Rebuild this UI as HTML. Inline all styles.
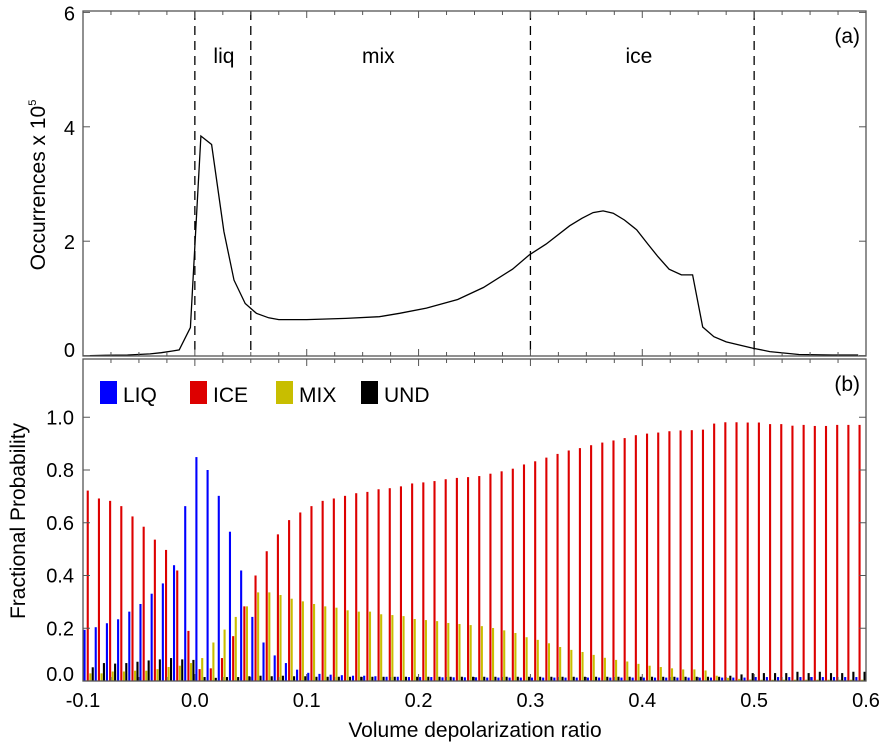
<!DOCTYPE html>
<html><head><meta charset="utf-8"><style>
html,body{margin:0;padding:0;background:#fff;}
svg{display:block;font-family:"Liberation Sans",Arial,sans-serif;}
</style></head><body>
<svg id="chart" width="891" height="751"></svg>
<script>
const occX=[-0.094,-0.08,-0.06,-0.04,-0.03,-0.02,-0.014,-0.004,0.0054,0.015,0.026,0.035,0.045,0.055,0.066,0.075,0.1,0.135,0.165,0.183,0.207,0.235,0.258,0.284,0.299,0.314,0.335,0.346,0.356,0.365,0.374,0.384,0.395,0.405,0.414,0.424,0.435,0.445,0.454,0.464,0.475,0.499,0.514,0.54,0.57,0.593];
const occY=[0.0,0.005,0.01,0.03,0.05,0.08,0.1,0.49,3.84,3.69,2.17,1.32,0.91,0.74,0.66,0.63,0.63,0.65,0.68,0.74,0.83,0.98,1.19,1.51,1.76,1.95,2.27,2.40,2.50,2.53,2.49,2.37,2.20,1.95,1.73,1.51,1.41,1.41,0.50,0.33,0.24,0.13,0.07,0.02,0.01,0.01];
const bins=[];for(let i=0;i<70;i++)bins.push(-0.1+i*0.01);
const liq=[0.194,0.204,0.219,0.234,0.263,0.292,0.331,0.370,0.439,0.663,0.849,0.80,0.702,0.566,0.419,0.243,0.146,0.097,0.068,0.043,0.031,0.027,0.024,0.022,0.02,0.02,0.018,0.016,0.016,0.015,0.015,0.015,0.014,0.014,0.014,0.014,0.013,0.013,0.013,0.013,0.013,0.013,0.013,0.013,0.013,0.013,0.013,0.013,0.013,0.013,0.013,0.013,0.013,0.013,0.013,0.013,0.013,0.013,0.013,0.013,0.015,0.015,0.015,0.015,0.015,0.015,0.015,0.015,0.015,0.015];
const ice=[0.722,0.692,0.683,0.663,0.624,0.585,0.536,0.497,0.419,0.190,0.045,0.048,0.087,0.170,0.283,0.40,0.492,0.556,0.61,0.639,0.663,0.683,0.692,0.702,0.712,0.717,0.727,0.731,0.738,0.749,0.753,0.758,0.765,0.77,0.773,0.777,0.786,0.795,0.805,0.821,0.833,0.847,0.861,0.874,0.883,0.894,0.904,0.912,0.921,0.932,0.938,0.942,0.947,0.95,0.951,0.953,0.976,0.981,0.981,0.98,0.98,0.974,0.974,0.968,0.971,0.967,0.967,0.971,0.971,0.971];
const mix=[0.029,0.029,0.036,0.036,0.039,0.039,0.045,0.053,0.058,0.068,0.087,0.146,0.195,0.243,0.283,0.336,0.336,0.326,0.312,0.302,0.292,0.283,0.278,0.268,0.263,0.263,0.253,0.25,0.246,0.235,0.231,0.227,0.22,0.216,0.212,0.208,0.201,0.192,0.182,0.166,0.156,0.143,0.129,0.118,0.11,0.099,0.088,0.08,0.074,0.065,0.058,0.053,0.048,0.044,0.044,0.04,0.02,0.012,0.008,0.006,0.005,0.005,0.005,0.005,0.005,0.005,0.005,0.005,0.005,0.005];
const und=[0.052,0.068,0.066,0.068,0.073,0.078,0.082,0.087,0.082,0.08,0.015,0.012,0.015,0.015,0.018,0.02,0.018,0.02,0.018,0.018,0.016,0.016,0.016,0.016,0.016,0.016,0.016,0.016,0.016,0.016,0.016,0.016,0.016,0.016,0.016,0.016,0.016,0.016,0.016,0.016,0.016,0.016,0.016,0.016,0.016,0.016,0.016,0.016,0.016,0.016,0.016,0.016,0.016,0.016,0.016,0.016,0.016,0.02,0.025,0.03,0.03,0.03,0.03,0.035,0.03,0.035,0.03,0.03,0.035,0.035];
const topTicks=[0,2,4,6];
const botTicks=[0.0,0.2,0.4,0.6,0.8,1.0];
const xTicks=[-0.1,0.0,0.1,0.2,0.3,0.5,0.6,0.4];
const xTickLabels=["-0.1","0.0","0.1","0.2","0.3","0.5","0.6","0.4"];
const regionLines=[0.0,0.05,0.3,0.5];
const regionNames=["liq","mix","ice"];
const regionCenters=[0.026,0.164,0.397];

const NS="http://www.w3.org/2000/svg";
const svg=document.getElementById('chart');
const L=83,R=866,T1=11,B1=356,T2=359,B2=681;
const xs=v=>L+(v+0.1)/0.7*(R-L);
const ys1=v=>355.6-v*57.2;
const ys2=v=>B2-v*263.75;
function mk(tag,attrs,parent){const e=document.createElementNS(NS,tag);for(const k in attrs)e.setAttribute(k,attrs[k]);(parent||svg).appendChild(e);return e;}
function txt(s,attrs){const e=mk('text',attrs);e.textContent=s;return e;}

// bars
const g=mk('g',{});


const series=[[liq,'#0000ff',0.5,'liq'],[ice,'#dd0000',3.7,'ice'],[mix,'#c8be00',6.3,'mix'],[und,'#000000',8.7,'und']];
series.forEach(([arr,col,off,nm])=>{
  arr.forEach((v,i)=>{
    const x=xs(bins[i])+off;const y=ys2(v);
    const r=mk('rect',{x:x,y:y,width:2.1,height:B2-y,fill:col},g);
    
    
  });
});

// curve
const pts=occX.map((v,i)=>xs(v).toFixed(1)+','+ys1(occY[i]).toFixed(1)).join(' ');
const pl=mk('polyline',{points:pts,fill:'none',stroke:'#000','stroke-width':1.3});



// dashed region lines
regionLines.forEach(v=>{
  const l=mk('line',{x1:xs(v),x2:xs(v),y1:T1,y2:B1,stroke:'#000','stroke-width':1.3,'stroke-dasharray':'9,6'});
  
  
});
regionNames.forEach((n,i)=>{
  const t=txt(n,{x:xs(regionCenters[i]),y:63,'font-size':21,'text-anchor':'middle'});
  
  
});

// frames
[[T1,B1,'top-panel-frame'],[T2,B2,'bottom-panel-frame']].forEach(([t,b,n])=>{
  const r=mk('rect',{x:L,y:t,width:R-L,height:b-t,fill:'none',stroke:'#555','stroke-width':1.3});
  
  
});
// x minor/major ticks on both panels
for(let k=0;k<=28;k++){
  const v=-0.1+k*0.025;const x=xs(v);const len=(k%4===0)?7:4;
  [[T1,1],[B1,-1],[T2,1],[B2,-1]].forEach(([y,d])=>mk('line',{x1:x,x2:x,y1:y,y2:y+d*len,stroke:'#555','stroke-width':1}));
}
topTicks.forEach(v=>{
  const y=ys1(v);
  mk('line',{x1:L,x2:L+7,y1:y,y2:y,stroke:'#555'});mk('line',{x1:R,x2:R-7,y1:y,y2:y,stroke:'#555'});
  const t=txt(String(v),{x:75,y:Math.min(y+8,357),'font-size':20,'text-anchor':'end'});
  
  
});
botTicks.forEach(v=>{
  const y=ys2(v);
  mk('line',{x1:L,x2:L+7,y1:y,y2:y,stroke:'#555'});mk('line',{x1:R,x2:R-7,y1:y,y2:y,stroke:'#555'});
  const t=txt(v.toFixed(1),{x:74,y:Math.min(y+7,681),'font-size':20,'text-anchor':'end'});
  
  
});
xTicks.forEach((v,i)=>{
  const t=txt(xTickLabels[i],{x:xs(v),y:707,'font-size':20,'text-anchor':'middle'});
  
  
});
const xt=txt('Volume depolarization ratio',{x:475,y:737,'font-size':21,'text-anchor':'middle'});


const yt1=mk('text',{x:0,y:0,'font-size':21,'text-anchor':'middle',transform:'translate(45,185) rotate(-90)'});
yt1.innerHTML='Occurrences x 10<tspan font-size="11" dy="-9">5</tspan>';


const yt2=txt('Fractional Probability',{x:0,y:0,'font-size':21,'text-anchor':'middle',transform:'translate(25,521) rotate(-90)'});


const pa=txt('(a)',{x:860,y:43,'font-size':21,'text-anchor':'end'});


const pb=txt('(b)',{x:860,y:391,'font-size':21,'text-anchor':'end'});



// legend
const legNames=['LIQ','ICE','MIX','UND'];
const legCols=['#0000ff','#dd0000','#c8be00','#000000'];
const legX=[100,190,276,361];
legNames.forEach((n,i)=>{
  const r=mk('rect',{x:legX[i],y:381,width:17,height:23,fill:legCols[i]});
  
  
  const t=txt(n,{x:legX[i]+23,y:402,'font-size':21});
  
  
});
</script>
</body></html>
